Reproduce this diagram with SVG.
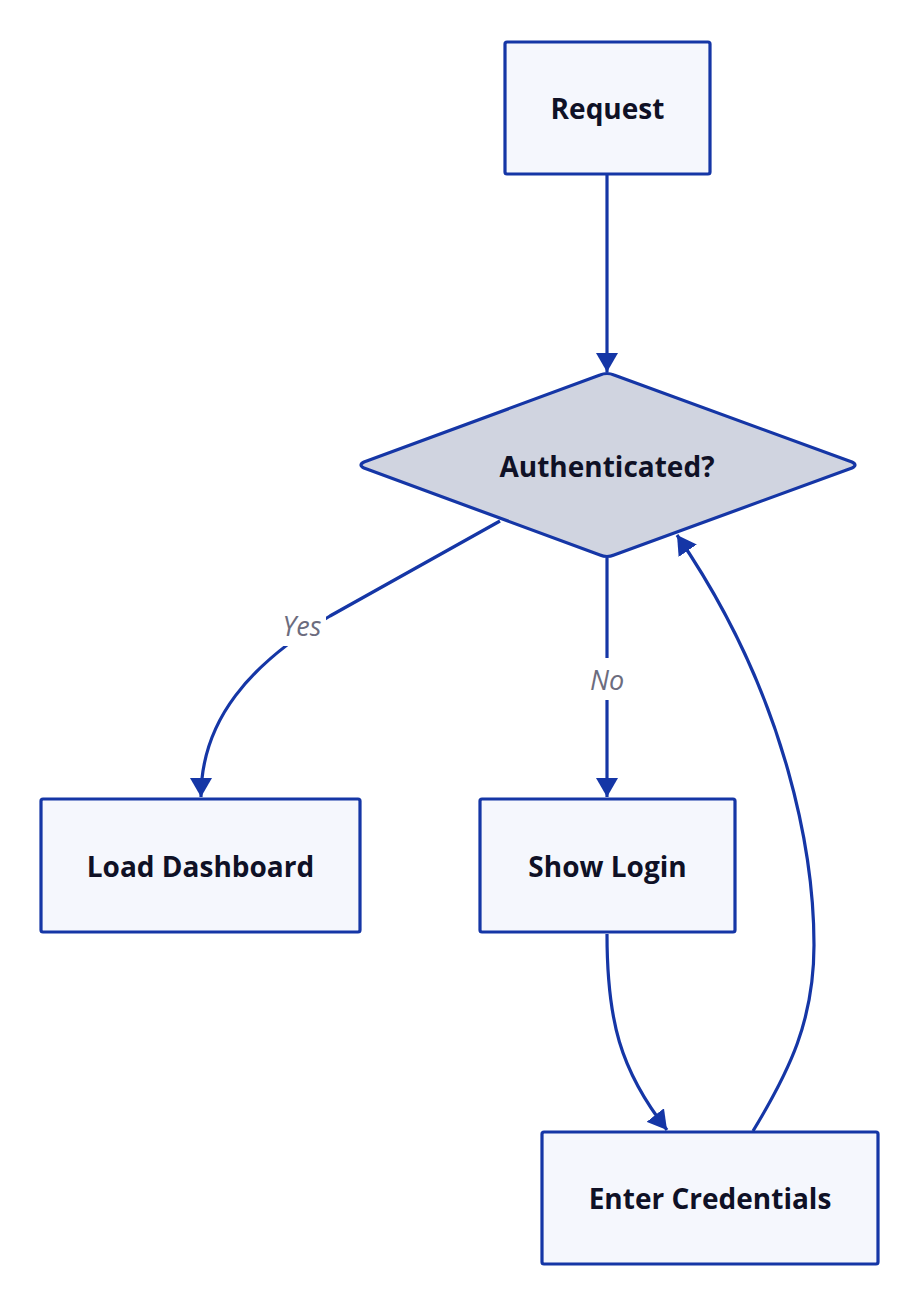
<svg xmlns="http://www.w3.org/2000/svg" width="920" height="1306" viewBox="0 0 920 1306">
<style>
.box{fill:#f5f7fd;stroke:#1536a6;stroke-width:3.2}
.dec{fill:#d0d4e0;stroke:#1536a6;stroke-width:3.2;stroke-linejoin:round}
.lbl{font-family:"Open Sans","Noto Sans",sans-serif;font-weight:700;font-size:28px;fill:#0f1126;text-anchor:middle;dominant-baseline:central}
.edge{fill:none;stroke:#1536a6;stroke-width:3.2}
.elbl{font-family:"Open Sans","Noto Sans",sans-serif;font-style:italic;font-size:27px;fill:#6c6c7e;text-anchor:middle;dominant-baseline:central}
.bg{fill:#ffffff}
</style>
<defs>
<marker id="arr" markerUnits="userSpaceOnUse" markerWidth="20" markerHeight="22" refX="19" refY="11" orient="auto">
<path d="M0,0 L19,11 L0,22 z" fill="#1536a6"/>
</marker>
</defs>
<rect width="920" height="1306" fill="#ffffff"/>
<g id="connectors">
<path class="edge" d="M607,174 L607,372" marker-end="url(#arr)"/>
<path class="edge" d="M500,521 L330,616 C250,664 201,720 201,797" marker-end="url(#arr)"/>
<path class="edge" d="M607,558 L607,797" marker-end="url(#arr)"/>
<path class="edge" d="M607,934 C607,1020 620,1070 667,1130" marker-end="url(#arr)"/>
<path class="edge" d="M753,1131 C790,1070 814,1020 814,945 C814,860 790,700 677,535" marker-end="url(#arr)"/>
<rect class="bg" x="279" y="604" width="47" height="42"/>
<text class="elbl" x="302" y="625">Yes</text>
<rect class="bg" x="590" y="658" width="35" height="42"/>
<text class="elbl" x="607" y="679">No</text>
</g>
<g id="request">
<rect class="box" x="505" y="42" width="205" height="132" rx="2"/>
<text class="lbl" x="607.5" y="108">Request</text>
</g>
<g id="authenticated">
<path class="dec" d="M600,375 Q607,372 614,375 L852,462 Q858,465 852,468 L614,555 Q607,558 600,555 L364,468 Q358,465 364,462 Z"/>
<text class="lbl" x="607" y="466">Authenticated?</text>
</g>
<g id="load-dashboard">
<rect class="box" x="41" y="799" width="319" height="133" rx="2"/>
<text class="lbl" x="200.5" y="866">Load Dashboard</text>
</g>
<g id="show-login">
<rect class="box" x="480" y="799" width="255" height="133" rx="2"/>
<text class="lbl" x="607.5" y="866">Show Login</text>
</g>
<g id="enter-credentials">
<rect class="box" x="542" y="1132" width="336" height="132" rx="2"/>
<text class="lbl" x="710" y="1198">Enter Credentials</text>
</g>
</svg>
